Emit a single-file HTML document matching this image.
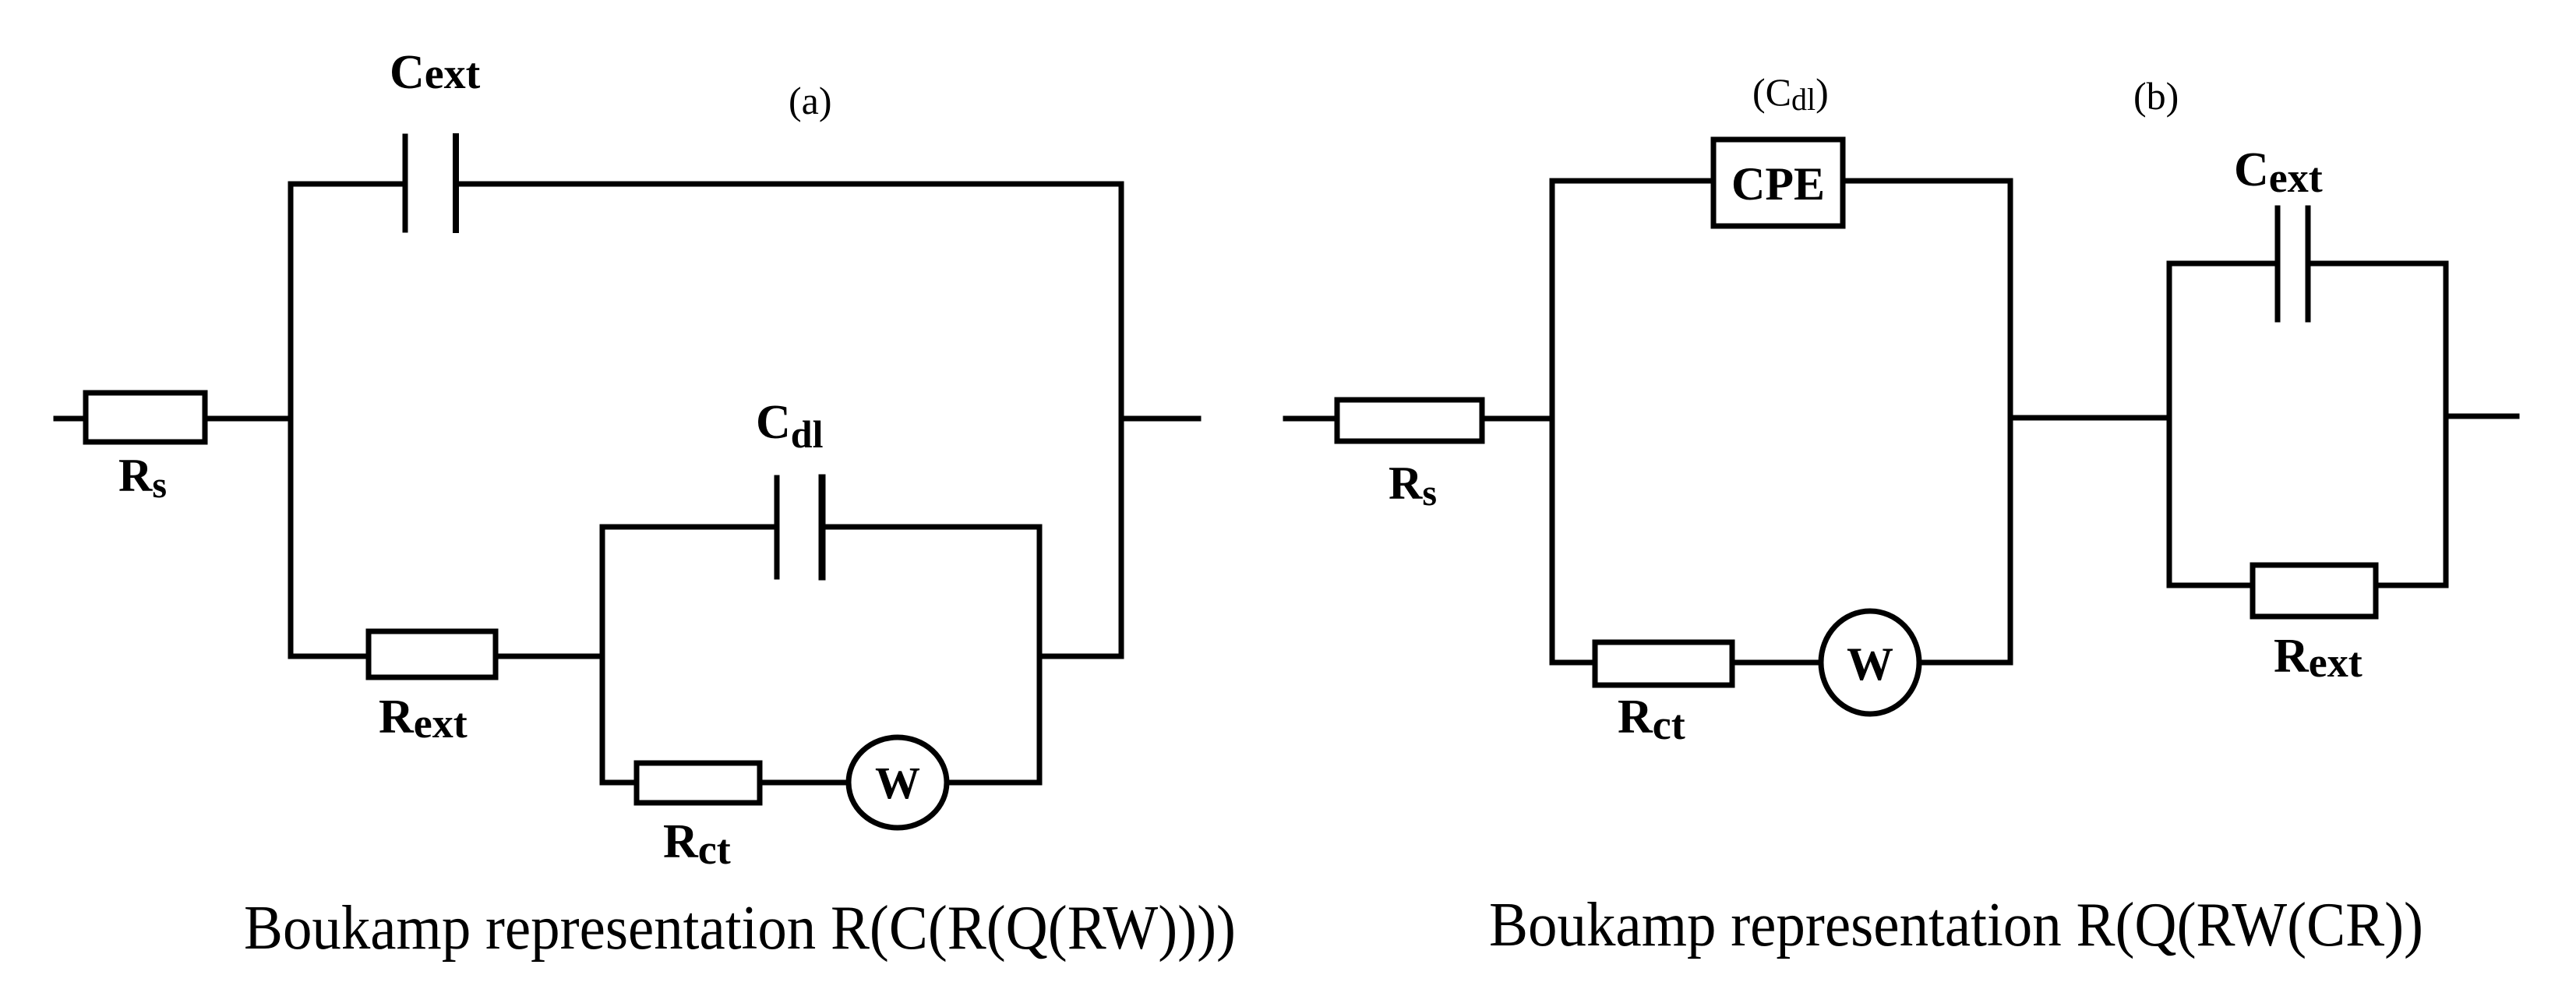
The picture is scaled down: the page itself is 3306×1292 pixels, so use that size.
<!DOCTYPE html>
<html><head><meta charset="utf-8"><style>
html,body{margin:0;padding:0;background:#fff;}
svg{display:block;}
text{font-family:"Liberation Serif",serif;fill:#000;}
</style></head><body>
<svg width="3306" height="1292" viewBox="0 0 3306 1292" xmlns="http://www.w3.org/2000/svg">
<g stroke="#000" stroke-width="7" fill="none" stroke-linecap="square">
<!-- LEFT circuit (a) -->
<line x1="72" y1="537" x2="110" y2="537"/>
<rect x="110" y="504" width="153" height="63" fill="#fff"/>
<line x1="263" y1="537" x2="373" y2="537"/>
<line x1="373" y1="236" x2="373" y2="842"/>
<line x1="373" y1="236" x2="520" y2="236"/>
<line x1="585" y1="236" x2="1439" y2="236"/>
<line x1="520" y1="175" x2="520" y2="295" stroke-width="7"/>
<line x1="585" y1="175" x2="585" y2="295" stroke-width="8"/>
<line x1="1439" y1="236" x2="1439" y2="842"/>
<line x1="1439" y1="537" x2="1538" y2="537"/>
<line x1="373" y1="842" x2="473" y2="842"/>
<rect x="473" y="810" width="163" height="59" fill="#fff"/>
<line x1="636" y1="842" x2="773" y2="842"/>
<line x1="773" y1="676" x2="773" y2="1004"/>
<line x1="773" y1="676" x2="997" y2="676"/>
<line x1="1055" y1="676" x2="1334" y2="676"/>
<line x1="997" y1="613" x2="997" y2="740" stroke-width="7"/>
<line x1="1055" y1="613" x2="1055" y2="740" stroke-width="9"/>
<line x1="1334" y1="676" x2="1334" y2="1004"/>
<line x1="1334" y1="842" x2="1439" y2="842"/>
<line x1="773" y1="1004" x2="817" y2="1004"/>
<rect x="817" y="979" width="158" height="51" fill="#fff"/>
<line x1="975" y1="1004" x2="1089" y2="1004"/>
<ellipse cx="1152" cy="1004" rx="63" ry="58" fill="#fff"/>
<line x1="1215" y1="1004" x2="1334" y2="1004"/>
<!-- RIGHT circuit (b) -->
<line x1="1650" y1="537" x2="1716" y2="537"/>
<rect x="1716" y="513" width="186" height="53" fill="#fff"/>
<line x1="1902" y1="537" x2="1992" y2="537"/>
<line x1="1992" y1="232" x2="1992" y2="850"/>
<line x1="1992" y1="232" x2="2199" y2="232"/>
<rect x="2199" y="179" width="166" height="111" fill="#fff"/>
<line x1="2365" y1="232" x2="2580" y2="232"/>
<line x1="2580" y1="232" x2="2580" y2="850"/>
<line x1="1992" y1="850" x2="2047" y2="850"/>
<rect x="2047" y="824" width="176" height="55" fill="#fff"/>
<line x1="2223" y1="850" x2="2337" y2="850"/>
<ellipse cx="2400" cy="850" rx="63" ry="66" fill="#fff"/>
<line x1="2463" y1="850" x2="2580" y2="850"/>
<line x1="2580" y1="536" x2="2784" y2="536"/>
<line x1="2784" y1="338" x2="2784" y2="751"/>
<line x1="2784" y1="338" x2="2923" y2="338"/>
<line x1="2962" y1="338" x2="3139" y2="338"/>
<line x1="2923" y1="267" x2="2923" y2="410" stroke-width="7"/>
<line x1="2962" y1="267" x2="2962" y2="410" stroke-width="7"/>
<line x1="3139" y1="338" x2="3139" y2="751"/>
<line x1="2784" y1="751" x2="2891" y2="751"/>
<rect x="2891" y="725" width="158" height="66" fill="#fff"/>
<line x1="3049" y1="751" x2="3139" y2="751"/>
<line x1="3139" y1="534" x2="3230" y2="534"/>
</g>
<!-- LEFT labels -->
<text x="500" y="113" font-size="62" font-weight="bold">C<tspan font-size="56">ext</tspan></text>
<text x="1012" y="146" font-size="50">(a)</text>
<text x="970" y="562" font-size="62" font-weight="bold">C<tspan font-size="50" dy="12">dl</tspan></text>
<text x="152" y="630" font-size="60" font-weight="bold">R<tspan font-size="48" dy="8">s</tspan></text>
<text x="486" y="940" font-size="62" font-weight="bold">R<tspan font-size="54" dy="6">ext</tspan></text>
<text x="851" y="1100" font-size="62" font-weight="bold">R<tspan font-size="54" dy="8">ct</tspan></text>
<text x="1152" y="1024" font-size="58" font-weight="bold" text-anchor="middle">W</text>
<text x="313" y="1217" font-size="80" textLength="1273" lengthAdjust="spacingAndGlyphs">Boukamp representation R(C(R(Q(RW))))</text>
<!-- RIGHT labels -->
<text x="2249" y="135" font-size="50">(C<tspan font-size="40" dy="6">dl</tspan><tspan dy="-6">)</tspan></text>
<text x="2738" y="140" font-size="50">(b)</text>
<text x="2282" y="256" font-size="60" font-weight="bold" text-anchor="middle">CPE</text>
<text x="2867" y="238" font-size="62" font-weight="bold">C<tspan font-size="54" dy="8">ext</tspan></text>
<text x="1782" y="640" font-size="60" font-weight="bold">R<tspan font-size="48" dy="8">s</tspan></text>
<text x="2076" y="940" font-size="62" font-weight="bold">R<tspan font-size="54" dy="8">ct</tspan></text>
<text x="2400" y="872" font-size="60" font-weight="bold" text-anchor="middle">W</text>
<text x="2918" y="862" font-size="62" font-weight="bold">R<tspan font-size="54" dy="6">ext</tspan></text>
<text x="1911" y="1213" font-size="80" textLength="1199" lengthAdjust="spacingAndGlyphs">Boukamp representation R(Q(RW(CR))</text>
</svg>
</body></html>
